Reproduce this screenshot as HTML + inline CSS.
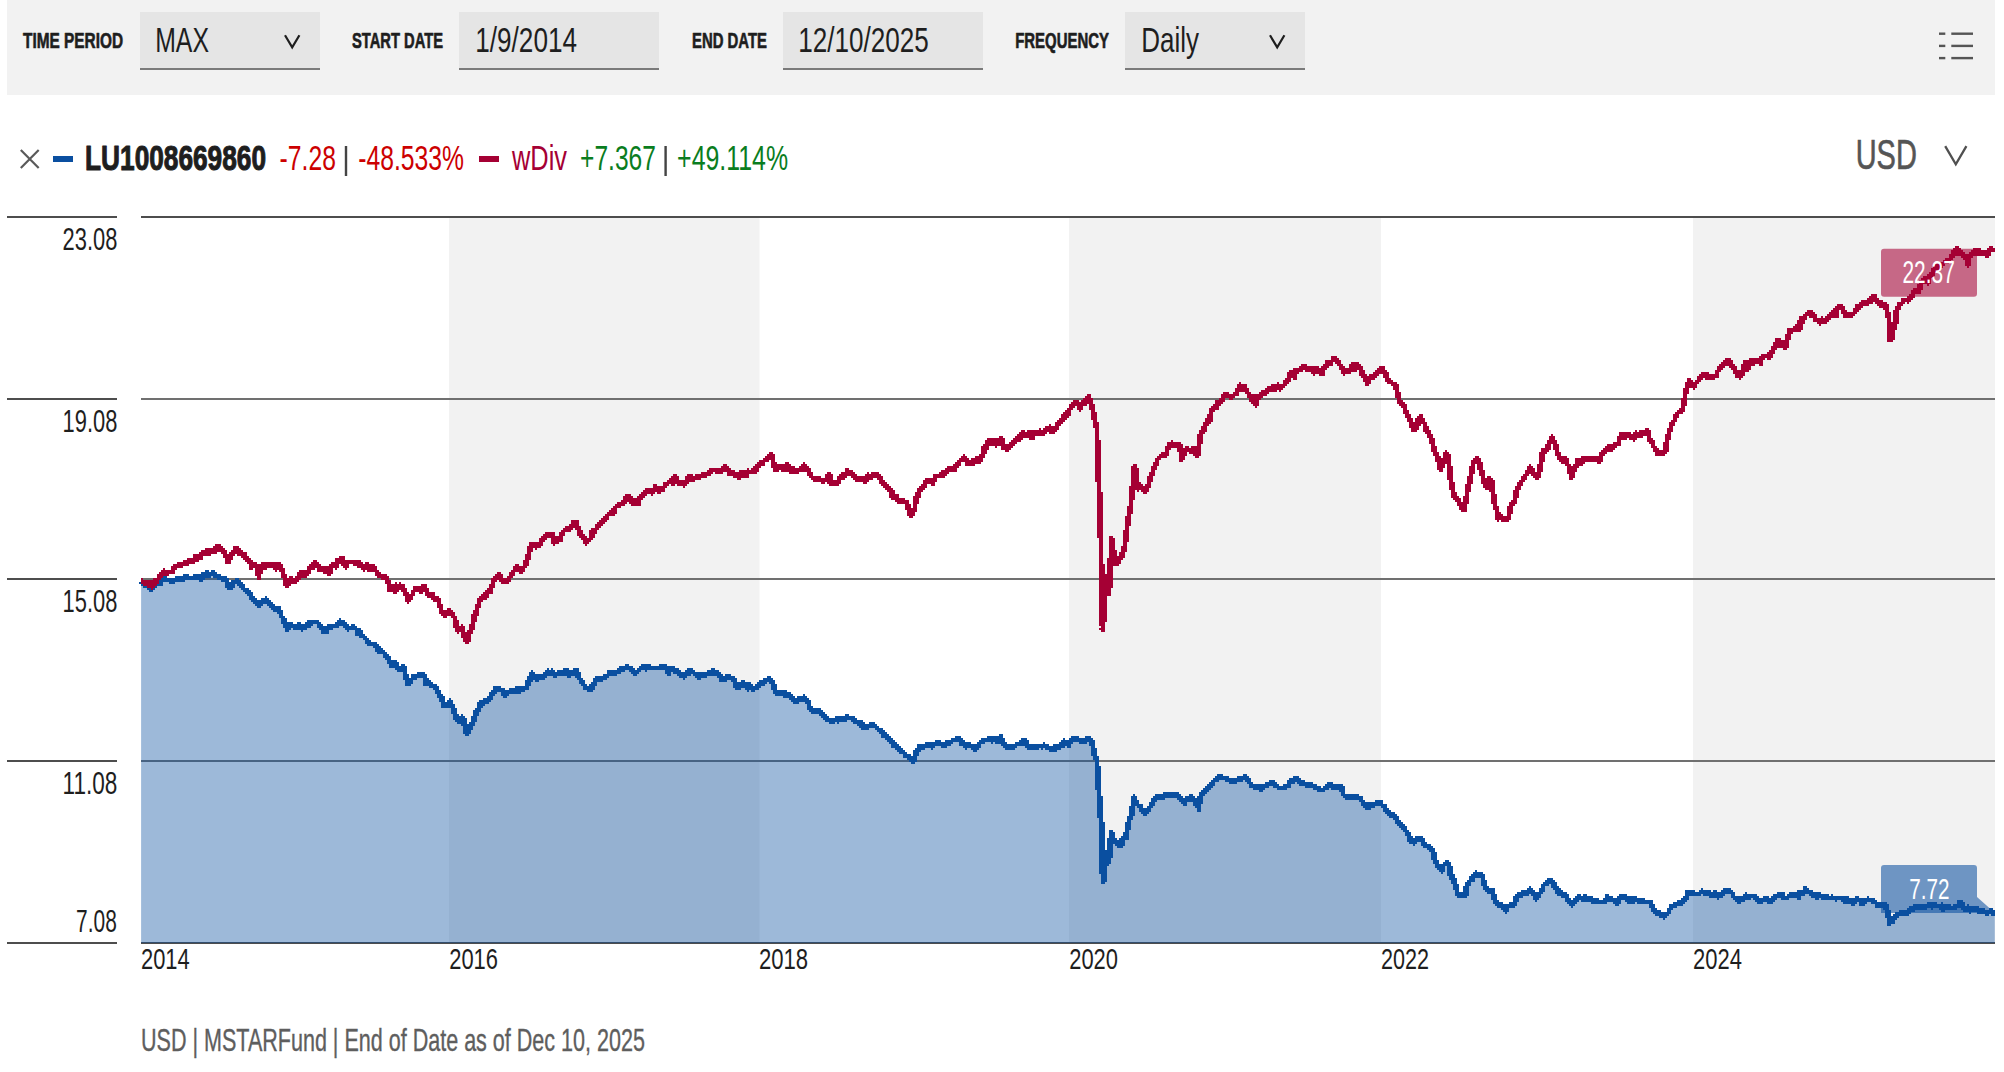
<!DOCTYPE html>
<html lang="en"><head><meta charset="utf-8"><title>Chart</title>
<style>
html,body{margin:0;padding:0;background:#fff;}
body{width:2004px;height:1072px;overflow:hidden;}
svg{display:block;position:absolute;left:0;top:0;}
text{font-family:"Liberation Sans",Arial,sans-serif;}
</style></head><body>
<svg width="2004" height="1072" viewBox="0 0 2004 1072">
<rect x="7" y="0" width="1988" height="95" fill="#f2f2f2"/>
<rect x="140" y="12" width="180" height="57" fill="#e5e5e5"/>
<rect x="140" y="68" width="180" height="2" fill="#7a7a7a"/>
<rect x="459" y="12" width="200" height="57" fill="#e5e5e5"/>
<rect x="459" y="68" width="200" height="2" fill="#7a7a7a"/>
<rect x="783" y="12" width="200" height="57" fill="#e5e5e5"/>
<rect x="783" y="68" width="200" height="2" fill="#7a7a7a"/>
<rect x="1125" y="12" width="180" height="57" fill="#e5e5e5"/>
<rect x="1125" y="68" width="180" height="2" fill="#7a7a7a"/>
<text x="23.0" y="48.1" font-size="21.66" font-weight="bold" fill="#1e1e1e" text-anchor="start" textLength="100.0" lengthAdjust="spacingAndGlyphs" stroke="#1e1e1e" stroke-width="0.65" stroke-linejoin="round">TIME PERIOD</text>
<text x="155.2" y="51.9" font-size="34.45" font-weight="normal" fill="#1e1e1e" text-anchor="start" textLength="53.8" lengthAdjust="spacingAndGlyphs">MAX</text>
<polyline points="285,35.3 292.2,47.3 299.4,35.3" fill="none" stroke="#1e1e1e" stroke-width="2.2" stroke-linejoin="miter"/>
<text x="352.0" y="48.1" font-size="21.66" font-weight="bold" fill="#1e1e1e" text-anchor="start" textLength="91.0" lengthAdjust="spacingAndGlyphs" stroke="#1e1e1e" stroke-width="0.65" stroke-linejoin="round">START DATE</text>
<text x="475.3" y="51.9" font-size="34.45" font-weight="normal" fill="#1e1e1e" text-anchor="start" textLength="101.7" lengthAdjust="spacingAndGlyphs">1/9/2014</text>
<text x="692.0" y="48.1" font-size="21.66" font-weight="bold" fill="#1e1e1e" text-anchor="start" textLength="75.0" lengthAdjust="spacingAndGlyphs" stroke="#1e1e1e" stroke-width="0.65" stroke-linejoin="round">END DATE</text>
<text x="798.2" y="51.9" font-size="34.45" font-weight="normal" fill="#1e1e1e" text-anchor="start" textLength="130.7" lengthAdjust="spacingAndGlyphs">12/10/2025</text>
<text x="1015.2" y="48.1" font-size="21.66" font-weight="bold" fill="#1e1e1e" text-anchor="start" textLength="93.8" lengthAdjust="spacingAndGlyphs" stroke="#1e1e1e" stroke-width="0.65" stroke-linejoin="round">FREQUENCY</text>
<text x="1141.2" y="51.9" font-size="34.45" font-weight="normal" fill="#1e1e1e" text-anchor="start" textLength="57.8" lengthAdjust="spacingAndGlyphs">Daily</text>
<polyline points="1270,35.3 1277.2,47.3 1284.4,35.3" fill="none" stroke="#1e1e1e" stroke-width="2.2" stroke-linejoin="miter"/>
<rect x="1939" y="32.5" width="6.3" height="2.4" fill="#555"/>
<rect x="1951.3" y="32.5" width="21.7" height="2.4" fill="#555"/>
<rect x="1939" y="44.7" width="6.3" height="2.4" fill="#555"/>
<rect x="1951.3" y="44.7" width="21.7" height="2.4" fill="#555"/>
<rect x="1939" y="56.9" width="6.3" height="2.4" fill="#555"/>
<rect x="1951.3" y="56.9" width="21.7" height="2.4" fill="#555"/>
<path d="M20.8,150 L38.7,168 M38.7,150 L20.8,168" stroke="#5a5a5a" stroke-width="2.2" fill="none"/>
<rect x="53" y="156" width="20" height="6" fill="#0a4fa0"/>
<text x="85.1" y="170.1" font-size="34.74" font-weight="bold" fill="#1e1e1e" text-anchor="start" textLength="180.9" lengthAdjust="spacingAndGlyphs" stroke="#1e1e1e" stroke-width="1.04" stroke-linejoin="round">LU1008669860</text>
<text x="279.6" y="170.1" font-size="34.45" font-weight="normal" fill="#cc0000" text-anchor="start" textLength="56.3" lengthAdjust="spacingAndGlyphs">-7.28</text>
<rect x="344.8" y="146" width="2.4" height="30" fill="#444"/>
<text x="358.3" y="170.1" font-size="34.45" font-weight="normal" fill="#cc0000" text-anchor="start" textLength="105.6" lengthAdjust="spacingAndGlyphs">-48.533%</text>
<rect x="479" y="156" width="20" height="6" fill="#a50034"/>
<text x="512.0" y="170.1" font-size="34.45" font-weight="normal" fill="#a50034" text-anchor="start" textLength="55.0" lengthAdjust="spacingAndGlyphs">wDiv</text>
<text x="580.1" y="170.1" font-size="34.45" font-weight="normal" fill="#0a7d1e" text-anchor="start" textLength="75.8" lengthAdjust="spacingAndGlyphs">+7.367</text>
<rect x="664.4" y="146" width="2.4" height="30" fill="#444"/>
<text x="677.1" y="170.1" font-size="34.45" font-weight="normal" fill="#0a7d1e" text-anchor="start" textLength="111.0" lengthAdjust="spacingAndGlyphs">+49.114%</text>
<text x="1855.7" y="168.8" font-size="42.73" font-weight="normal" fill="#555" text-anchor="start" textLength="61.1" lengthAdjust="spacingAndGlyphs" stroke="#555" stroke-width="0.7">USD</text>
<polyline points="1945.2,146.2 1955.8000000000002,164.3 1966.4,146.2" fill="none" stroke="#505050" stroke-width="2.3" stroke-linejoin="miter"/>
<rect x="449" y="218" width="310.5" height="724" fill="#f2f2f2"/>
<rect x="1069" y="218" width="312" height="724" fill="#f2f2f2"/>
<rect x="1693" y="218" width="302" height="724" fill="#f2f2f2"/>
<rect x="7" y="216" width="110" height="2" fill="#4d4d4d"/>
<rect x="141" y="216" width="1854" height="2" fill="#4d4d4d"/>
<rect x="7" y="398" width="110" height="2" fill="#4d4d4d"/>
<rect x="141" y="398" width="1854" height="2" fill="#707070"/>
<rect x="7" y="578" width="110" height="2" fill="#4d4d4d"/>
<rect x="141" y="578" width="1854" height="2" fill="#707070"/>
<rect x="7" y="760" width="110" height="2" fill="#4d4d4d"/>
<rect x="141" y="760" width="1854" height="2" fill="#707070"/>
<rect x="7" y="942" width="110" height="2" fill="#4d4d4d"/>
<rect x="141" y="942" width="1854" height="2" fill="#4d4d4d"/>
<text x="62.6" y="250.1" font-size="30.67" font-weight="normal" fill="#1e1e1e" text-anchor="start" textLength="54.8" lengthAdjust="spacingAndGlyphs">23.08</text>
<text x="62.6" y="432.1" font-size="30.67" font-weight="normal" fill="#1e1e1e" text-anchor="start" textLength="54.8" lengthAdjust="spacingAndGlyphs">19.08</text>
<text x="62.6" y="612.1" font-size="30.67" font-weight="normal" fill="#1e1e1e" text-anchor="start" textLength="54.8" lengthAdjust="spacingAndGlyphs">15.08</text>
<text x="62.6" y="794.1" font-size="30.67" font-weight="normal" fill="#1e1e1e" text-anchor="start" textLength="54.8" lengthAdjust="spacingAndGlyphs">11.08</text>
<text x="76.1" y="932.2" font-size="30.81" font-weight="normal" fill="#1e1e1e" text-anchor="start" textLength="40.7" lengthAdjust="spacingAndGlyphs">7.08</text>
<text x="141.0" y="969.0" font-size="30.38" font-weight="normal" fill="#1e1e1e" text-anchor="start" textLength="48.7" lengthAdjust="spacingAndGlyphs">2014</text>
<text x="449.2" y="969.0" font-size="30.38" font-weight="normal" fill="#1e1e1e" text-anchor="start" textLength="48.8" lengthAdjust="spacingAndGlyphs">2016</text>
<text x="758.9" y="969.0" font-size="30.38" font-weight="normal" fill="#1e1e1e" text-anchor="start" textLength="49.2" lengthAdjust="spacingAndGlyphs">2018</text>
<text x="1069.2" y="969.0" font-size="30.38" font-weight="normal" fill="#1e1e1e" text-anchor="start" textLength="48.8" lengthAdjust="spacingAndGlyphs">2020</text>
<text x="1381.1" y="969.0" font-size="30.38" font-weight="normal" fill="#1e1e1e" text-anchor="start" textLength="48.0" lengthAdjust="spacingAndGlyphs">2022</text>
<text x="1693.1" y="969.0" font-size="30.38" font-weight="normal" fill="#1e1e1e" text-anchor="start" textLength="48.9" lengthAdjust="spacingAndGlyphs">2024</text>
<text x="141.0" y="1051.1" font-size="30.52" font-weight="normal" fill="#5e5e5e" text-anchor="start" textLength="503.9" lengthAdjust="spacingAndGlyphs" stroke="#5e5e5e" stroke-width="0.35">USD | MSTARFund | End of Date as of Dec 10, 2025</text>
<polygon points="141.1,581.1 142.4,583.0 143.8,584.5 145.1,583.1 146.4,583.6 147.8,585.1 149.1,586.6 150.5,587.9 151.8,589.0 153.1,587.5 154.5,585.8 155.8,584.5 157.2,582.6 158.8,581.4 160.4,583.7 162.0,581.6 163.6,578.9 165.2,580.3 166.8,579.4 168.4,579.5 170.0,581.5 171.5,579.8 173.0,581.8 174.5,579.8 176.0,579.4 177.5,578.3 179.2,578.2 180.8,577.5 182.4,579.1 184.0,577.6 185.6,575.8 187.2,576.6 188.8,577.4 190.4,577.6 191.8,577.9 193.1,578.1 194.4,576.8 195.8,576.1 197.4,577.0 199.0,576.6 200.6,579.0 202.2,578.9 203.8,574.2 205.4,575.4 207.0,572.4 208.7,574.6 210.2,574.9 211.7,573.7 213.2,571.8 214.7,575.2 216.2,574.6 217.5,575.8 218.8,577.6 220.2,576.9 221.5,577.6 223.0,578.1 224.4,579.9 225.8,578.3 228.0,587.5 229.4,587.9 230.8,586.6 232.3,585.4 233.9,581.9 235.5,581.5 237.1,580.9 238.7,582.6 240.3,584.0 241.9,586.4 243.5,589.4 245.1,590.1 246.6,590.7 248.0,592.5 249.4,592.2 250.8,595.4 252.3,598.2 253.7,600.8 255.1,600.6 256.4,601.6 257.7,604.1 259.1,606.2 260.5,602.9 261.9,603.7 263.4,599.7 264.7,600.6 266.0,598.8 267.4,601.9 268.7,604.0 270.1,604.0 271.4,604.7 272.8,606.5 274.1,609.4 275.5,608.2 277.0,608.4 278.4,608.3 279.8,610.7 281.2,616.8 282.7,618.0 284.1,622.7 285.5,623.9 287.0,629.8 288.6,628.4 290.2,624.4 291.5,624.2 292.9,626.3 294.2,626.6 295.5,627.6 297.0,628.8 298.5,624.7 300.1,625.9 301.6,628.9 303.1,625.5 304.5,626.0 305.9,626.3 307.3,626.5 308.8,622.5 310.2,623.9 311.6,623.3 313.1,622.3 314.5,621.7 315.9,621.8 317.3,621.5 318.6,623.8 320.0,626.6 321.3,626.5 322.9,630.7 324.5,631.3 325.9,632.1 327.2,629.3 328.5,626.9 329.9,627.0 331.2,628.1 332.6,625.9 333.9,625.6 335.2,625.5 336.7,624.4 338.1,624.4 339.5,621.2 341.1,622.6 342.7,621.5 344.4,625.3 346.0,627.0 347.4,627.3 348.8,629.0 350.3,627.7 351.7,628.3 353.1,626.0 354.5,627.6 356.2,628.5 357.8,634.1 359.4,630.7 361.0,634.6 362.6,636.2 364.2,637.3 365.6,639.3 367.1,641.3 368.5,642.6 370.1,643.0 371.7,644.1 373.3,643.7 374.9,643.7 376.4,647.0 377.9,651.1 379.4,649.3 380.9,649.9 382.4,651.2 384.0,653.9 385.7,655.6 387.3,657.7 388.9,658.7 390.5,663.3 392.1,666.2 393.7,666.3 395.3,661.9 396.9,667.2 398.5,667.3 399.9,669.7 401.2,668.6 402.6,666.7 403.9,668.4 405.3,675.5 406.8,679.9 408.2,684.5 409.5,681.9 410.9,680.8 412.2,678.7 413.5,675.9 414.9,675.7 416.2,676.8 417.6,676.1 418.9,673.7 420.3,674.3 421.8,674.7 423.2,674.8 424.5,677.5 425.9,683.6 427.2,682.4 428.6,682.3 430.2,683.9 431.8,685.2 433.4,686.1 435.0,685.5 436.4,689.0 437.9,690.9 439.3,695.2 440.7,695.1 442.2,701.4 443.6,705.9 444.9,704.5 446.3,706.0 447.6,703.8 448.9,703.8 450.4,701.3 451.8,706.2 453.2,709.1 454.7,713.7 456.1,718.9 457.5,720.9 459.0,721.3 460.4,717.9 461.8,716.7 463.2,720.4 464.7,726.0 466.1,732.7 468.4,732.4 470.0,727.6 471.7,724.4 473.4,723.4 474.9,717.7 476.4,713.0 477.9,709.2 479.4,707.7 480.9,702.5 482.4,703.8 483.9,702.3 485.4,700.9 486.8,702.0 488.3,701.0 489.8,697.6 491.3,695.5 492.8,692.1 494.3,691.6 495.8,688.3 497.3,687.6 498.8,687.6 500.3,690.3 501.8,690.4 503.3,691.3 504.7,695.1 506.2,693.1 507.7,692.6 509.2,691.3 510.7,691.0 512.2,690.6 513.7,691.4 515.2,691.7 516.7,687.9 518.2,690.1 519.7,690.6 521.2,688.7 522.6,688.5 524.1,688.5 525.6,688.2 527.1,686.1 528.6,680.5 530.1,679.5 531.6,672.7 533.1,674.6 534.6,675.3 536.1,680.0 537.6,676.5 539.1,677.2 540.5,677.3 542.0,678.2 543.5,676.6 545.0,674.3 546.5,675.0 548.0,671.2 549.5,673.9 551.0,672.1 552.5,671.3 554.0,674.1 555.5,675.7 557.0,674.5 558.4,672.4 559.9,673.3 561.4,671.2 562.7,673.5 564.0,671.9 565.3,671.3 566.7,669.1 568.0,673.7 569.3,675.3 570.6,674.7 571.9,672.7 573.4,673.2 574.9,672.0 576.3,669.7 577.8,675.0 579.3,678.7 580.8,679.5 582.3,682.7 583.8,684.7 585.3,687.6 586.8,688.1 588.3,688.9 589.8,687.2 591.3,689.1 592.8,685.2 594.2,683.5 595.7,681.6 597.2,678.1 598.7,678.0 600.2,678.1 601.7,678.3 603.2,678.7 604.7,676.9 606.2,675.6 607.7,675.7 609.2,672.8 610.7,672.7 612.1,671.9 613.6,672.6 615.1,672.1 616.6,672.2 618.1,671.2 619.6,669.8 621.1,669.9 622.6,668.2 624.1,667.6 625.6,667.7 627.1,666.7 628.6,667.8 630.0,668.8 631.5,668.1 633.0,670.9 634.5,673.2 636.0,672.7 637.5,671.8 639.0,670.2 640.5,668.8 642.0,667.8 643.5,666.9 645.0,668.2 646.5,668.1 647.9,666.7 649.4,666.9 650.9,668.2 652.4,667.6 653.9,668.2 655.4,667.7 656.9,667.7 658.4,668.0 659.9,667.3 661.4,665.3 662.9,668.2 664.4,666.9 665.8,668.4 667.3,668.9 668.8,673.1 670.3,669.2 671.8,668.2 673.3,669.6 674.8,671.5 676.3,671.7 677.8,671.5 679.3,672.7 680.8,674.6 682.3,674.7 683.7,677.2 685.2,674.1 686.7,673.4 688.2,673.7 689.7,669.9 691.2,669.7 692.7,671.8 694.2,673.0 695.7,674.7 697.2,674.8 698.7,677.2 700.2,675.3 701.6,676.1 703.1,674.8 704.6,674.2 706.0,674.8 707.3,673.6 708.7,674.1 710.0,671.8 711.3,673.3 712.7,670.2 714.0,673.2 715.4,673.3 716.7,674.3 718.1,672.7 719.5,674.7 721.0,679.4 722.5,677.2 724.0,679.2 725.5,678.7 727.0,675.8 728.5,676.0 730.0,677.0 731.5,678.7 733.0,679.6 734.5,679.5 736.0,685.5 737.4,687.6 738.9,686.1 740.4,686.4 741.9,684.7 743.4,682.2 744.9,683.1 746.4,686.7 747.9,689.1 749.4,683.9 750.9,687.6 752.4,688.5 753.9,688.7 755.3,687.2 756.8,686.7 758.3,685.3 759.8,683.1 761.1,683.0 762.4,682.4 763.7,682.8 765.0,680.6 766.3,679.8 767.7,679.6 769.0,678.5 770.3,680.2 771.8,681.2 773.2,685.2 774.7,689.7 776.2,693.6 777.7,693.4 779.2,694.3 780.7,691.4 782.2,692.9 783.7,695.1 785.2,693.7 786.7,693.1 788.2,693.6 789.5,697.0 791.1,697.3 792.7,699.8 794.3,700.3 795.9,700.2 797.2,701.1 798.5,699.3 799.8,698.7 801.2,699.0 802.5,698.8 803.8,697.0 805.1,700.1 806.4,701.4 807.8,701.2 809.1,706.3 810.4,710.2 811.7,709.7 813.1,712.3 814.4,710.8 815.7,709.6 817.0,710.1 818.3,710.4 819.7,711.3 821.0,712.2 822.3,713.7 823.6,714.5 825.0,718.7 826.3,717.7 827.6,719.2 829.2,719.2 830.8,720.6 832.4,720.7 833.9,720.8 835.5,719.0 837.1,719.4 838.7,720.7 840.3,717.6 841.6,719.4 842.9,717.4 844.3,719.5 845.6,717.7 846.9,716.4 848.2,717.6 849.5,717.5 850.9,718.3 852.2,717.9 853.5,719.0 854.8,719.8 856.2,722.4 857.5,721.6 858.8,723.0 860.1,722.2 861.4,723.3 862.8,728.0 864.1,727.2 865.4,725.6 866.7,726.7 868.1,726.5 869.4,725.7 870.7,724.2 872.0,724.0 873.3,723.7 874.7,725.9 876.0,727.3 877.3,727.6 878.6,729.5 880.0,730.3 881.3,731.1 882.6,732.8 883.9,735.9 885.2,735.7 886.6,736.3 887.9,736.7 889.2,739.9 890.5,741.4 891.9,741.5 893.2,746.3 894.5,744.1 895.8,746.2 897.1,746.0 898.5,748.5 899.8,749.4 901.1,751.3 902.4,751.9 903.8,752.5 905.3,755.5 906.9,755.9 908.5,756.9 910.1,758.9 911.7,760.4 913.3,762.1 915.2,756.1 917.1,749.4 918.5,749.1 920.0,745.9 921.5,745.9 922.9,747.1 924.4,746.2 925.7,745.5 927.0,746.3 928.3,745.5 929.7,744.6 931.0,746.5 932.3,746.2 933.9,744.7 935.5,743.8 937.1,743.2 938.7,741.4 940.2,743.4 941.8,744.1 943.4,746.2 945.0,744.7 946.6,742.6 948.2,742.6 949.8,743.0 951.1,741.9 952.5,740.3 953.8,739.5 955.2,740.5 956.6,739.7 957.9,738.5 959.3,738.3 960.6,740.3 961.9,744.5 963.2,743.5 964.6,743.6 965.9,746.6 967.2,744.6 968.6,745.8 969.9,744.6 971.3,746.2 972.7,746.4 974.0,748.0 975.4,750.4 976.7,747.8 978.1,745.5 979.4,744.1 980.7,742.2 982.0,741.0 983.3,740.5 984.7,739.9 986.0,739.8 987.3,740.5 988.6,738.3 990.0,738.5 991.3,740.6 992.6,739.9 993.9,738.8 995.2,739.9 996.6,739.9 997.9,742.2 999.2,737.3 1000.5,736.7 1002.1,740.9 1003.7,744.3 1005.3,746.2 1006.6,747.4 1008.0,747.5 1009.4,747.2 1010.7,746.5 1012.1,747.1 1013.4,746.5 1014.8,746.2 1016.2,744.3 1017.5,743.9 1018.9,744.0 1020.2,744.3 1021.6,742.1 1023.0,741.2 1024.3,739.9 1025.9,743.2 1027.5,745.8 1029.1,746.1 1030.7,747.8 1032.0,746.9 1033.4,746.8 1034.8,746.1 1036.1,746.9 1037.5,746.9 1038.8,745.1 1040.2,746.2 1041.5,745.7 1042.8,746.6 1044.2,745.1 1045.5,746.2 1046.8,746.1 1048.1,747.8 1049.4,747.1 1050.8,749.4 1052.1,748.9 1053.4,749.4 1054.7,746.2 1056.1,749.4 1057.4,747.4 1058.7,747.9 1060.0,744.5 1061.3,743.4 1062.7,745.1 1064.0,741.4 1065.4,742.3 1066.7,742.7 1068.1,742.9 1069.4,745.3 1070.8,739.9 1072.2,738.9 1073.5,738.3 1074.9,738.3 1076.2,738.5 1077.6,739.1 1079.0,740.3 1080.3,739.8 1081.7,741.1 1083.0,739.9 1084.4,741.4 1085.7,741.3 1087.0,738.8 1088.3,738.7 1089.6,740.1 1091.0,739.9 1092.5,747.3 1094.1,754.1 1096.7,760.5 1097.8,783.8 1099.5,798.9 1100.3,815.7 1101.6,829.2 1102.0,854.4 1102.3,871.1 1103.3,881.2 1105.0,867.8 1106.2,852.7 1108.7,862.7 1110.4,854.4 1111.2,831.7 1112.9,836.9 1114.6,840.9 1116.0,842.1 1117.4,844.2 1118.8,844.3 1121.3,846.8 1123.0,838.4 1124.7,836.9 1126.3,837.6 1128.0,824.1 1129.7,818.2 1132.2,814.0 1133.9,797.3 1136.4,804.0 1138.1,805.3 1139.8,805.6 1141.5,810.5 1143.1,811.5 1144.8,813.3 1146.5,813.0 1148.2,810.7 1149.8,806.6 1151.5,805.6 1154.0,799.8 1155.7,798.5 1157.4,796.9 1159.1,797.3 1160.8,797.2 1162.4,797.1 1164.1,796.4 1165.8,794.5 1167.5,795.9 1169.2,793.9 1170.8,794.5 1172.5,794.9 1174.2,796.4 1175.9,794.8 1177.6,794.7 1179.2,798.1 1180.9,798.2 1182.6,799.0 1184.3,804.0 1185.7,799.8 1187.1,798.9 1188.5,799.8 1190.2,796.5 1191.8,799.5 1193.5,798.9 1195.2,804.4 1196.9,805.6 1198.6,809.0 1201.1,793.9 1202.7,792.4 1204.4,790.7 1206.1,790.5 1207.5,789.5 1208.9,786.8 1210.3,785.5 1212.0,783.7 1213.7,781.1 1215.3,780.5 1216.8,778.8 1218.3,778.3 1219.8,776.8 1221.2,777.9 1222.9,777.2 1224.6,777.9 1226.3,778.8 1227.9,778.8 1229.6,780.4 1231.3,781.3 1232.7,782.1 1234.1,781.0 1235.5,779.6 1237.2,780.0 1238.9,778.6 1240.5,777.1 1242.2,779.0 1243.9,777.3 1245.6,777.1 1247.3,778.5 1248.9,781.1 1250.6,784.7 1252.0,785.2 1253.4,786.3 1254.8,787.2 1256.2,787.8 1257.5,786.9 1258.8,786.0 1260.2,786.2 1261.5,789.7 1262.9,787.0 1264.2,786.3 1265.6,785.8 1266.9,785.8 1268.2,784.7 1269.6,783.4 1270.9,783.2 1272.3,782.2 1273.6,783.2 1275.0,785.5 1276.3,785.1 1277.7,787.1 1279.0,787.9 1280.3,787.9 1281.7,788.0 1283.4,787.5 1285.0,787.7 1286.7,785.5 1288.2,785.5 1289.7,784.2 1291.1,779.3 1292.6,781.3 1294.1,779.0 1295.5,779.3 1297.0,778.3 1298.5,781.3 1300.2,783.4 1301.8,782.2 1303.5,783.8 1305.0,783.2 1306.5,784.9 1307.9,783.7 1309.4,785.5 1310.8,785.7 1312.2,785.2 1313.6,787.2 1315.1,787.5 1316.5,787.2 1318.0,788.3 1319.5,789.7 1321.1,789.5 1322.8,789.6 1324.5,788.0 1325.9,788.2 1327.3,786.9 1328.7,785.5 1330.2,784.1 1331.6,787.1 1333.1,787.6 1334.6,787.2 1336.3,786.6 1337.9,787.3 1339.6,788.9 1341.0,786.5 1342.4,792.0 1343.8,794.7 1345.5,796.4 1347.2,797.5 1348.9,798.1 1350.3,796.6 1351.7,795.6 1353.1,796.4 1354.7,796.5 1356.4,796.9 1358.1,798.1 1359.5,797.2 1360.9,799.8 1362.3,800.6 1363.7,803.6 1365.1,806.4 1366.5,807.3 1367.9,804.0 1369.3,807.3 1370.7,804.8 1372.4,805.1 1374.0,804.5 1375.7,803.1 1377.4,804.5 1379.1,801.6 1380.8,803.1 1382.2,805.1 1383.6,805.9 1385.0,809.0 1386.4,809.6 1387.8,811.7 1389.2,814.0 1390.6,815.1 1392.0,815.1 1393.4,813.3 1394.8,817.9 1396.2,819.0 1397.6,820.3 1398.9,824.5 1400.6,823.9 1402.2,826.3 1403.9,827.8 1405.2,829.6 1406.6,831.7 1408.0,833.5 1410.5,840.1 1412.1,842.4 1413.8,842.6 1415.4,840.2 1417.1,838.5 1418.4,839.0 1419.8,838.8 1421.2,838.5 1422.8,842.1 1424.5,845.0 1425.8,844.5 1427.2,846.6 1428.6,846.7 1430.0,848.3 1431.3,850.0 1432.7,850.8 1434.3,859.0 1435.7,862.1 1437.1,863.8 1438.5,866.5 1440.1,869.0 1441.8,870.6 1443.4,866.3 1445.0,863.2 1446.4,863.0 1447.8,863.1 1449.2,865.6 1450.8,878.8 1452.2,876.3 1453.6,881.8 1454.9,883.7 1457.4,893.6 1459.0,894.5 1460.7,895.8 1462.3,893.6 1464.0,893.5 1465.6,895.3 1467.3,885.4 1468.6,883.4 1470.0,881.0 1471.4,878.8 1472.8,879.8 1474.1,874.9 1475.5,873.0 1477.2,875.0 1478.8,873.9 1480.2,875.9 1481.5,875.2 1482.9,879.6 1484.6,887.0 1485.9,887.4 1487.3,888.0 1488.7,891.2 1490.3,891.5 1492.0,889.5 1493.6,896.5 1495.3,901.9 1496.9,903.0 1498.6,906.0 1499.9,905.3 1501.3,904.7 1502.7,906.8 1504.3,906.4 1506.0,910.9 1507.6,906.7 1509.3,905.2 1510.6,904.4 1512.0,905.2 1513.4,905.2 1515.0,902.3 1516.7,895.3 1518.3,895.4 1520.0,895.6 1521.6,893.6 1523.0,892.6 1524.4,894.0 1525.7,894.4 1527.4,892.3 1529.0,889.5 1530.4,889.4 1531.8,891.5 1533.1,893.6 1534.8,895.3 1536.4,898.6 1537.8,896.9 1539.2,894.2 1540.6,892.0 1542.2,890.3 1543.8,885.4 1545.2,883.5 1546.6,883.2 1548.0,882.1 1549.3,880.3 1550.7,880.2 1552.1,882.1 1553.5,882.7 1554.8,887.0 1556.2,887.9 1557.6,892.7 1558.9,891.8 1560.3,892.0 1562.0,894.8 1563.6,894.3 1565.3,895.3 1566.6,896.6 1568.0,899.4 1569.4,901.9 1571.0,904.2 1572.7,904.3 1574.0,903.1 1575.4,900.2 1576.8,899.4 1578.4,896.4 1580.1,898.0 1581.7,898.6 1583.4,900.2 1585.0,896.1 1586.7,897.5 1588.3,899.4 1589.8,899.8 1591.2,898.4 1592.6,900.5 1594.1,901.9 1595.7,901.3 1597.4,900.9 1599.0,901.9 1600.7,901.8 1602.3,902.0 1604.0,901.0 1605.6,902.3 1607.2,896.8 1608.9,899.4 1610.3,900.1 1611.6,899.0 1613.0,900.2 1614.4,900.4 1615.8,901.5 1617.1,904.3 1618.8,899.8 1620.4,897.7 1622.1,895.6 1623.7,896.1 1625.4,896.9 1627.0,897.5 1628.7,901.9 1630.0,898.6 1631.4,899.5 1632.8,901.0 1634.1,897.8 1635.5,899.2 1636.9,900.2 1638.5,900.8 1640.2,901.4 1641.8,901.9 1643.5,900.6 1645.1,902.5 1646.8,901.0 1648.1,902.4 1649.5,901.8 1650.9,902.7 1652.5,907.6 1654.2,910.9 1655.6,910.1 1656.9,913.4 1658.3,911.7 1659.9,914.5 1661.6,914.2 1663.2,915.2 1664.9,916.7 1666.5,914.2 1668.2,913.3 1669.8,909.3 1671.5,907.2 1673.1,905.2 1674.8,905.2 1676.1,904.1 1677.5,903.6 1678.9,902.7 1680.5,903.0 1682.2,902.8 1683.8,900.2 1685.2,898.7 1686.6,897.7 1687.9,892.0 1689.3,894.3 1690.7,892.9 1692.1,893.6 1693.7,893.2 1695.3,894.4 1697.0,893.6 1698.4,893.8 1699.7,892.6 1701.1,892.0 1702.8,891.5 1704.4,891.6 1706.0,893.6 1707.7,892.5 1709.3,894.0 1710.8,893.7 1712.2,896.3 1713.7,894.0 1715.2,891.8 1716.7,894.7 1718.2,896.8 1719.7,894.0 1721.1,895.5 1722.5,893.0 1723.8,891.5 1725.2,890.1 1726.5,891.7 1728.1,891.7 1729.6,890.7 1731.1,892.5 1732.6,894.2 1734.1,897.0 1736.0,899.6 1737.9,900.1 1739.3,901.2 1740.6,897.5 1741.9,898.8 1743.2,898.5 1744.6,898.1 1745.9,894.8 1747.2,896.7 1748.5,896.3 1750.1,896.0 1751.6,895.8 1753.1,895.5 1754.6,896.4 1756.1,899.1 1757.6,899.3 1759.2,900.6 1760.7,902.4 1762.2,900.1 1763.7,900.1 1765.2,897.0 1766.7,898.5 1769.0,901.6 1770.4,901.3 1771.7,900.1 1773.0,898.7 1774.3,897.0 1775.8,896.3 1777.4,896.5 1778.9,894.8 1780.2,896.3 1781.5,893.8 1782.9,896.9 1784.2,897.0 1786.1,897.7 1788.0,897.0 1789.5,896.0 1791.0,893.2 1792.5,895.4 1794.1,893.9 1795.6,893.6 1797.1,893.2 1798.6,897.0 1800.1,892.7 1801.6,893.1 1803.2,891.7 1804.5,892.7 1805.8,888.3 1807.1,890.2 1808.5,891.0 1810.0,891.8 1811.5,893.3 1813.0,894.8 1814.4,896.4 1815.7,894.8 1817.1,897.3 1818.5,895.3 1819.8,894.8 1821.4,896.6 1822.9,896.3 1824.4,897.8 1825.9,897.2 1827.4,898.0 1828.9,897.0 1830.3,898.5 1831.6,897.8 1832.9,897.3 1834.3,897.8 1835.6,897.6 1837.0,898.6 1838.3,897.9 1839.7,897.9 1841.1,897.8 1842.6,898.7 1844.1,900.2 1845.6,901.6 1847.1,898.6 1848.7,901.0 1850.2,900.4 1851.7,903.1 1853.0,902.7 1854.4,902.3 1855.7,899.2 1857.0,898.5 1858.9,899.1 1860.8,900.8 1862.3,904.2 1863.8,903.4 1865.4,901.6 1866.9,899.2 1868.5,899.4 1870.0,900.2 1871.5,900.1 1873.0,901.0 1874.4,901.1 1876.2,903.4 1878.0,905.5 1879.3,906.2 1880.6,905.8 1882.0,903.8 1883.3,904.8 1884.6,904.5 1886.0,906.4 1887.7,911.7 1889.1,923.3 1890.6,921.6 1892.2,922.4 1894.4,917.1 1895.9,914.7 1897.5,916.2 1898.8,913.6 1900.1,912.6 1901.5,912.5 1902.8,912.6 1904.1,912.3 1905.5,911.7 1907.2,913.3 1909.0,909.1 1910.3,909.4 1911.7,910.5 1913.0,908.7 1914.3,908.2 1915.7,906.9 1917.0,907.8 1918.3,906.0 1919.6,906.9 1921.0,907.3 1922.3,906.4 1923.6,905.9 1925.0,907.3 1926.3,906.4 1927.6,905.3 1929.0,903.8 1930.3,906.4 1931.6,906.5 1932.9,903.3 1934.3,905.7 1935.6,906.0 1936.9,905.2 1938.3,905.8 1939.6,906.9 1940.9,906.4 1942.3,905.1 1943.6,909.6 1944.9,906.4 1946.2,906.9 1947.6,906.5 1948.9,906.3 1950.2,907.2 1951.6,908.2 1953.0,907.2 1954.5,906.7 1956.0,905.5 1957.5,905.4 1959.1,904.7 1960.6,901.2 1962.2,905.1 1964.0,908.5 1965.7,908.2 1967.2,907.9 1968.7,907.2 1970.2,910.9 1971.7,908.4 1973.1,908.5 1974.6,908.6 1976.4,908.3 1978.2,909.1 1979.5,912.5 1980.8,911.7 1982.4,909.8 1983.9,911.3 1985.5,912.9 1987.0,911.7 1988.4,912.8 1989.7,910.9 1991.4,910.8 1993.1,912.8 1994.8,913.5 1994.8,943 141.1,943" fill="#0a4fa0" fill-opacity="0.4"/>
<rect x="1881" y="248.7" width="96" height="48" rx="3" fill="#a50034" fill-opacity="0.57"/>
<path d="M1884,865 h90 a3,3 0 0 1 3,3 v29 l18,16 h-114 v-45 a3,3 0 0 1 3,-3 z" fill="#0a4fa0" fill-opacity="0.57"/>
<path d="M139 582h2v2h-2zM141 580h2v6h-2zM143 580h2v8h-2zM145 580h2v8h-2zM147 582h2v8h-2zM149 584h2v8h-2zM151 584h2v8h-2zM153 582h2v8h-2zM155 580h2v8h-2zM157 580h2v6h-2zM159 580h2v6h-2zM161 578h2v8h-2zM163 576h2v6h-2zM165 576h2v6h-2zM167 578h2v4h-2zM169 578h2v6h-2zM171 578h2v6h-2zM173 578h2v6h-2zM175 576h2v6h-2zM177 576h2v6h-2zM179 576h2v6h-2zM181 576h2v6h-2zM183 574h2v8h-2zM185 574h2v6h-2zM187 574h2v6h-2zM189 576h2v4h-2zM191 576h2v4h-2zM193 574h2v6h-2zM195 574h2v6h-2zM197 574h2v6h-2zM199 574h2v8h-2zM201 572h2v10h-2zM203 572h2v8h-2zM205 570h2v8h-2zM207 570h2v8h-2zM209 572h2v6h-2zM211 570h2v6h-2zM213 570h2v8h-2zM215 572h2v6h-2zM217 574h2v6h-2zM219 574h2v6h-2zM221 576h2v6h-2zM223 576h2v6h-2zM225 576h2v12h-2zM227 578h2v12h-2zM229 582h2v8h-2zM231 580h2v10h-2zM233 580h2v8h-2zM235 578h2v6h-2zM237 578h2v8h-2zM239 580h2v8h-2zM241 582h2v8h-2zM243 584h2v8h-2zM245 588h2v6h-2zM247 588h2v8h-2zM249 590h2v10h-2zM251 592h2v10h-2zM253 596h2v8h-2zM255 598h2v8h-2zM257 600h2v8h-2zM259 600h2v8h-2zM261 598h2v8h-2zM263 598h2v6h-2zM265 596h2v8h-2zM267 598h2v8h-2zM269 600h2v8h-2zM271 602h2v8h-2zM273 604h2v8h-2zM275 606h2v6h-2zM277 606h2v8h-2zM279 606h2v12h-2zM281 610h2v14h-2zM283 616h2v12h-2zM285 618h2v14h-2zM287 622h2v10h-2zM289 622h2v8h-2zM291 622h2v6h-2zM293 624h2v6h-2zM295 624h2v6h-2zM297 622h2v8h-2zM299 622h2v8h-2zM301 624h2v8h-2zM303 624h2v6h-2zM305 622h2v8h-2zM307 620h2v8h-2zM309 620h2v8h-2zM311 620h2v6h-2zM313 620h2v4h-2zM315 620h2v4h-2zM317 620h2v8h-2zM319 622h2v8h-2zM321 624h2v10h-2zM323 626h2v8h-2zM325 626h2v8h-2zM327 624h2v10h-2zM329 624h2v6h-2zM331 624h2v6h-2zM333 624h2v4h-2zM335 622h2v6h-2zM337 620h2v8h-2zM339 618h2v8h-2zM341 620h2v6h-2zM343 620h2v8h-2zM345 622h2v8h-2zM347 624h2v8h-2zM349 626h2v4h-2zM351 624h2v6h-2zM353 624h2v6h-2zM355 626h2v10h-2zM357 628h2v8h-2zM359 628h2v10h-2zM361 630h2v8h-2zM363 634h2v6h-2zM365 636h2v8h-2zM367 638h2v8h-2zM369 640h2v6h-2zM371 642h2v4h-2zM373 642h2v6h-2zM375 642h2v10h-2zM377 644h2v10h-2zM379 646h2v8h-2zM381 648h2v6h-2zM383 650h2v8h-2zM385 652h2v8h-2zM387 654h2v10h-2zM389 656h2v12h-2zM391 660h2v8h-2zM393 660h2v8h-2zM395 660h2v10h-2zM397 662h2v10h-2zM399 666h2v6h-2zM401 664h2v8h-2zM403 664h2v16h-2zM405 666h2v20h-2zM407 674h2v12h-2zM409 678h2v8h-2zM411 674h2v10h-2zM413 674h2v6h-2zM415 674h2v6h-2zM417 672h2v6h-2zM419 672h2v6h-2zM421 672h2v6h-2zM423 672h2v14h-2zM425 674h2v12h-2zM427 678h2v8h-2zM429 680h2v8h-2zM431 682h2v6h-2zM433 684h2v6h-2zM435 684h2v10h-2zM437 686h2v12h-2zM439 690h2v12h-2zM441 694h2v14h-2zM443 696h2v12h-2zM445 702h2v6h-2zM447 700h2v8h-2zM449 698h2v10h-2zM451 700h2v14h-2zM453 704h2v16h-2zM455 708h2v14h-2zM457 714h2v10h-2zM459 716h2v8h-2zM461 714h2v12h-2zM463 716h2v18h-2zM465 718h2v18h-2zM467 724h2v12h-2zM469 722h2v12h-2zM471 716h2v14h-2zM473 710h2v16h-2zM475 708h2v14h-2zM477 702h2v14h-2zM479 700h2v12h-2zM481 700h2v8h-2zM483 698h2v8h-2zM485 698h2v6h-2zM487 696h2v8h-2zM489 692h2v10h-2zM491 690h2v10h-2zM493 686h2v10h-2zM495 686h2v8h-2zM497 686h2v6h-2zM499 686h2v6h-2zM501 688h2v8h-2zM503 688h2v10h-2zM505 690h2v8h-2zM507 690h2v6h-2zM509 688h2v6h-2zM511 688h2v6h-2zM513 688h2v6h-2zM515 686h2v8h-2zM517 686h2v8h-2zM519 686h2v8h-2zM521 686h2v6h-2zM523 686h2v6h-2zM525 680h2v10h-2zM527 676h2v14h-2zM529 672h2v14h-2zM531 670h2v12h-2zM533 672h2v8h-2zM535 674h2v8h-2zM537 674h2v8h-2zM539 674h2v6h-2zM541 674h2v6h-2zM543 672h2v8h-2zM545 670h2v8h-2zM547 668h2v8h-2zM549 670h2v6h-2zM551 668h2v8h-2zM553 670h2v8h-2zM555 672h2v6h-2zM557 670h2v6h-2zM559 670h2v6h-2zM561 670h2v6h-2zM563 668h2v8h-2zM565 668h2v8h-2zM567 668h2v10h-2zM569 670h2v8h-2zM571 670h2v6h-2zM573 668h2v8h-2zM575 668h2v10h-2zM577 668h2v12h-2zM579 672h2v12h-2zM581 678h2v8h-2zM583 680h2v10h-2zM585 684h2v6h-2zM587 686h2v6h-2zM589 684h2v8h-2zM591 682h2v10h-2zM593 678h2v12h-2zM595 676h2v10h-2zM597 676h2v6h-2zM599 676h2v6h-2zM601 676h2v6h-2zM603 674h2v6h-2zM605 674h2v6h-2zM607 670h2v8h-2zM609 670h2v6h-2zM611 670h2v6h-2zM613 670h2v6h-2zM615 670h2v6h-2zM617 668h2v6h-2zM619 666h2v8h-2zM621 666h2v6h-2zM623 666h2v6h-2zM625 664h2v6h-2zM627 664h2v6h-2zM629 666h2v6h-2zM631 666h2v8h-2zM633 668h2v8h-2zM635 670h2v6h-2zM637 668h2v6h-2zM639 666h2v6h-2zM641 664h2v6h-2zM643 664h2v6h-2zM645 664h2v8h-2zM647 664h2v6h-2zM649 664h2v6h-2zM651 666h2v4h-2zM653 666h2v4h-2zM655 666h2v4h-2zM657 666h2v4h-2zM659 664h2v6h-2zM661 664h2v6h-2zM663 664h2v6h-2zM665 664h2v10h-2zM667 666h2v10h-2zM669 666h2v10h-2zM671 666h2v6h-2zM673 666h2v8h-2zM675 668h2v6h-2zM677 668h2v8h-2zM679 670h2v8h-2zM681 672h2v6h-2zM683 672h2v8h-2zM685 670h2v8h-2zM687 668h2v8h-2zM689 668h2v8h-2zM691 668h2v6h-2zM693 670h2v6h-2zM695 672h2v6h-2zM697 672h2v8h-2zM699 672h2v8h-2zM701 672h2v6h-2zM703 672h2v6h-2zM705 672h2v6h-2zM707 670h2v6h-2zM709 670h2v6h-2zM711 668h2v8h-2zM713 668h2v8h-2zM715 670h2v6h-2zM717 670h2v8h-2zM719 672h2v10h-2zM721 674h2v8h-2zM723 676h2v6h-2zM725 674h2v8h-2zM727 674h2v6h-2zM729 674h2v6h-2zM731 676h2v6h-2zM733 676h2v12h-2zM735 678h2v12h-2zM737 682h2v8h-2zM739 682h2v8h-2zM741 680h2v8h-2zM743 680h2v8h-2zM745 682h2v8h-2zM747 682h2v10h-2zM749 682h2v8h-2zM751 684h2v8h-2zM753 686h2v6h-2zM755 684h2v6h-2zM757 682h2v8h-2zM759 680h2v8h-2zM761 680h2v6h-2zM763 678h2v8h-2zM765 678h2v6h-2zM767 676h2v6h-2zM769 676h2v8h-2zM771 678h2v12h-2zM773 680h2v14h-2zM775 684h2v12h-2zM777 690h2v6h-2zM779 690h2v6h-2zM781 690h2v6h-2zM783 690h2v8h-2zM785 690h2v8h-2zM787 692h2v6h-2zM789 692h2v8h-2zM791 694h2v8h-2zM793 696h2v8h-2zM795 698h2v6h-2zM797 696h2v8h-2zM799 696h2v6h-2zM801 696h2v6h-2zM803 694h2v8h-2zM805 696h2v8h-2zM807 698h2v12h-2zM809 700h2v12h-2zM811 706h2v8h-2zM813 708h2v6h-2zM815 708h2v6h-2zM817 708h2v6h-2zM819 708h2v8h-2zM821 710h2v8h-2zM823 712h2v8h-2zM825 714h2v8h-2zM827 716h2v6h-2zM829 718h2v6h-2zM831 718h2v6h-2zM833 718h2v6h-2zM835 716h2v6h-2zM837 716h2v8h-2zM839 716h2v6h-2zM841 716h2v6h-2zM843 716h2v6h-2zM845 714h2v8h-2zM847 714h2v6h-2zM849 716h2v4h-2zM851 716h2v6h-2zM853 716h2v8h-2zM855 718h2v6h-2zM857 720h2v6h-2zM859 720h2v8h-2zM861 720h2v10h-2zM863 722h2v8h-2zM865 724h2v6h-2zM867 724h2v6h-2zM869 722h2v6h-2zM871 722h2v6h-2zM873 722h2v6h-2zM875 724h2v6h-2zM877 726h2v6h-2zM879 728h2v6h-2zM881 728h2v10h-2zM883 730h2v8h-2zM885 732h2v8h-2zM887 734h2v8h-2zM889 736h2v8h-2zM891 738h2v10h-2zM893 740h2v8h-2zM895 742h2v8h-2zM897 744h2v8h-2zM899 746h2v8h-2zM901 748h2v6h-2zM903 750h2v8h-2zM905 752h2v6h-2zM907 754h2v6h-2zM909 754h2v8h-2zM911 756h2v8h-2zM913 750h2v14h-2zM915 748h2v14h-2zM917 744h2v12h-2zM919 744h2v8h-2zM921 744h2v6h-2zM923 744h2v6h-2zM925 742h2v6h-2zM927 742h2v6h-2zM929 742h2v6h-2zM931 742h2v8h-2zM933 742h2v6h-2zM935 740h2v6h-2zM937 740h2v6h-2zM939 740h2v6h-2zM941 742h2v6h-2zM943 742h2v6h-2zM945 740h2v8h-2zM947 740h2v6h-2zM949 740h2v6h-2zM951 738h2v6h-2zM953 738h2v4h-2zM955 736h2v6h-2zM957 736h2v6h-2zM959 736h2v10h-2zM961 738h2v8h-2zM963 740h2v8h-2zM965 742h2v8h-2zM967 742h2v6h-2zM969 742h2v6h-2zM971 744h2v6h-2zM973 744h2v8h-2zM975 744h2v8h-2zM977 742h2v8h-2zM979 740h2v8h-2zM981 738h2v6h-2zM983 738h2v6h-2zM985 738h2v4h-2zM987 736h2v6h-2zM989 736h2v6h-2zM991 736h2v8h-2zM993 736h2v6h-2zM995 736h2v8h-2zM997 736h2v8h-2zM999 734h2v10h-2zM1001 734h2v12h-2zM1003 738h2v10h-2zM1005 742h2v8h-2zM1007 744h2v6h-2zM1009 744h2v6h-2zM1011 744h2v6h-2zM1013 744h2v6h-2zM1015 742h2v6h-2zM1017 742h2v4h-2zM1019 740h2v6h-2zM1021 738h2v8h-2zM1023 738h2v8h-2zM1025 738h2v10h-2zM1027 740h2v10h-2zM1029 744h2v6h-2zM1031 744h2v6h-2zM1033 744h2v6h-2zM1035 744h2v6h-2zM1037 744h2v6h-2zM1039 744h2v4h-2zM1041 744h2v6h-2zM1043 742h2v6h-2zM1045 744h2v6h-2zM1047 744h2v6h-2zM1049 746h2v6h-2zM1051 746h2v6h-2zM1053 744h2v8h-2zM1055 744h2v8h-2zM1057 744h2v6h-2zM1059 742h2v8h-2zM1061 740h2v8h-2zM1063 738h2v10h-2zM1065 740h2v6h-2zM1067 740h2v8h-2zM1069 738h2v10h-2zM1071 736h2v8h-2zM1073 736h2v6h-2zM1075 736h2v6h-2zM1077 736h2v6h-2zM1079 738h2v6h-2zM1081 738h2v6h-2zM1083 738h2v6h-2zM1085 736h2v8h-2zM1087 736h2v6h-2zM1089 736h2v10h-2zM1091 738h2v18h-2zM1093 740h2v20h-2zM1095 748h2v42h-2zM1097 756h2v62h-2zM1099 766h2v108h-2zM1101 796h2v88h-2zM1103 822h2v62h-2zM1105 850h2v32h-2zM1107 838h2v28h-2zM1109 830h2v34h-2zM1111 830h2v28h-2zM1113 832h2v12h-2zM1115 838h2v8h-2zM1117 840h2v8h-2zM1119 838h2v10h-2zM1121 836h2v12h-2zM1123 832h2v14h-2zM1125 822h2v18h-2zM1127 816h2v24h-2zM1129 806h2v24h-2zM1131 796h2v24h-2zM1133 794h2v22h-2zM1135 796h2v10h-2zM1137 800h2v8h-2zM1139 804h2v8h-2zM1141 804h2v10h-2zM1143 808h2v8h-2zM1145 808h2v8h-2zM1147 806h2v8h-2zM1149 802h2v10h-2zM1151 798h2v10h-2zM1153 796h2v10h-2zM1155 794h2v8h-2zM1157 794h2v6h-2zM1159 794h2v6h-2zM1161 794h2v6h-2zM1163 792h2v8h-2zM1165 792h2v6h-2zM1167 792h2v6h-2zM1169 792h2v6h-2zM1171 792h2v6h-2zM1173 792h2v6h-2zM1175 792h2v6h-2zM1177 792h2v8h-2zM1179 794h2v8h-2zM1181 796h2v8h-2zM1183 798h2v8h-2zM1185 796h2v10h-2zM1187 796h2v6h-2zM1189 794h2v8h-2zM1191 794h2v8h-2zM1193 796h2v10h-2zM1195 798h2v10h-2zM1197 796h2v16h-2zM1199 792h2v20h-2zM1201 790h2v14h-2zM1203 788h2v8h-2zM1205 786h2v8h-2zM1207 784h2v8h-2zM1209 782h2v8h-2zM1211 780h2v8h-2zM1213 778h2v8h-2zM1215 776h2v6h-2zM1217 774h2v8h-2zM1219 774h2v6h-2zM1221 774h2v6h-2zM1223 776h2v4h-2zM1225 776h2v6h-2zM1227 776h2v6h-2zM1229 778h2v6h-2zM1231 778h2v6h-2zM1233 778h2v6h-2zM1235 778h2v6h-2zM1237 776h2v6h-2zM1239 776h2v6h-2zM1241 776h2v6h-2zM1243 774h2v6h-2zM1245 774h2v8h-2zM1247 776h2v8h-2zM1249 778h2v10h-2zM1251 782h2v6h-2zM1253 784h2v6h-2zM1255 784h2v6h-2zM1257 784h2v6h-2zM1259 784h2v8h-2zM1261 784h2v8h-2zM1263 784h2v6h-2zM1265 782h2v6h-2zM1267 782h2v6h-2zM1269 780h2v6h-2zM1271 780h2v6h-2zM1273 780h2v8h-2zM1275 782h2v6h-2zM1277 784h2v6h-2zM1279 786h2v4h-2zM1281 786h2v4h-2zM1283 784h2v6h-2zM1285 784h2v6h-2zM1287 780h2v8h-2zM1289 778h2v10h-2zM1291 778h2v6h-2zM1293 776h2v8h-2zM1295 776h2v6h-2zM1297 776h2v8h-2zM1299 778h2v8h-2zM1301 780h2v6h-2zM1303 780h2v6h-2zM1305 782h2v6h-2zM1307 782h2v6h-2zM1309 782h2v6h-2zM1311 782h2v6h-2zM1313 784h2v6h-2zM1315 784h2v6h-2zM1317 786h2v6h-2zM1319 786h2v6h-2zM1321 788h2v4h-2zM1323 786h2v6h-2zM1325 784h2v6h-2zM1327 782h2v8h-2zM1329 782h2v6h-2zM1331 782h2v8h-2zM1333 784h2v6h-2zM1335 784h2v6h-2zM1337 784h2v6h-2zM1339 784h2v8h-2zM1341 784h2v12h-2zM1343 786h2v12h-2zM1345 794h2v6h-2zM1347 794h2v6h-2zM1349 794h2v6h-2zM1351 794h2v6h-2zM1353 794h2v6h-2zM1355 794h2v6h-2zM1357 794h2v6h-2zM1359 796h2v6h-2zM1361 796h2v10h-2zM1363 800h2v8h-2zM1365 802h2v8h-2zM1367 802h2v8h-2zM1369 802h2v8h-2zM1371 802h2v6h-2zM1373 802h2v6h-2zM1375 800h2v6h-2zM1377 800h2v6h-2zM1379 800h2v6h-2zM1381 800h2v8h-2zM1383 804h2v8h-2zM1385 804h2v10h-2zM1387 808h2v8h-2zM1389 810h2v8h-2zM1391 812h2v6h-2zM1393 812h2v8h-2zM1395 814h2v10h-2zM1397 816h2v10h-2zM1399 820h2v8h-2zM1401 822h2v8h-2zM1403 824h2v8h-2zM1405 826h2v10h-2zM1407 830h2v12h-2zM1409 832h2v12h-2zM1411 836h2v8h-2zM1413 838h2v8h-2zM1415 836h2v8h-2zM1417 836h2v6h-2zM1419 836h2v6h-2zM1421 836h2v10h-2zM1423 838h2v10h-2zM1425 842h2v6h-2zM1427 844h2v6h-2zM1429 844h2v8h-2zM1431 846h2v14h-2zM1433 848h2v16h-2zM1435 852h2v16h-2zM1437 860h2v10h-2zM1439 864h2v8h-2zM1441 864h2v10h-2zM1443 862h2v10h-2zM1445 860h2v6h-2zM1447 860h2v16h-2zM1449 862h2v18h-2zM1451 866h2v18h-2zM1453 874h2v16h-2zM1455 878h2v18h-2zM1457 884h2v14h-2zM1459 892h2v6h-2zM1461 892h2v6h-2zM1463 886h2v12h-2zM1465 882h2v16h-2zM1467 880h2v16h-2zM1469 876h2v10h-2zM1471 874h2v8h-2zM1473 872h2v10h-2zM1475 870h2v8h-2zM1477 872h2v6h-2zM1479 872h2v6h-2zM1481 872h2v14h-2zM1483 874h2v16h-2zM1485 880h2v12h-2zM1487 886h2v8h-2zM1489 888h2v6h-2zM1491 888h2v12h-2zM1493 888h2v16h-2zM1495 894h2v12h-2zM1497 900h2v8h-2zM1499 902h2v6h-2zM1501 902h2v8h-2zM1503 904h2v8h-2zM1505 904h2v10h-2zM1507 904h2v8h-2zM1509 902h2v6h-2zM1511 902h2v6h-2zM1513 896h2v12h-2zM1515 894h2v12h-2zM1517 892h2v10h-2zM1519 892h2v6h-2zM1521 890h2v8h-2zM1523 890h2v6h-2zM1525 890h2v6h-2zM1527 888h2v8h-2zM1529 886h2v8h-2zM1531 888h2v8h-2zM1533 890h2v10h-2zM1535 892h2v10h-2zM1537 892h2v8h-2zM1539 888h2v10h-2zM1541 884h2v10h-2zM1543 882h2v10h-2zM1545 880h2v6h-2zM1547 878h2v8h-2zM1549 878h2v6h-2zM1551 878h2v10h-2zM1553 880h2v10h-2zM1555 882h2v12h-2zM1557 886h2v10h-2zM1559 888h2v8h-2zM1561 890h2v8h-2zM1563 892h2v6h-2zM1565 892h2v10h-2zM1567 894h2v10h-2zM1569 898h2v8h-2zM1571 900h2v8h-2zM1573 898h2v8h-2zM1575 896h2v8h-2zM1577 894h2v8h-2zM1579 894h2v6h-2zM1581 896h2v6h-2zM1583 894h2v8h-2zM1585 894h2v8h-2zM1587 896h2v6h-2zM1589 896h2v6h-2zM1591 896h2v8h-2zM1593 898h2v6h-2zM1595 898h2v6h-2zM1597 898h2v6h-2zM1599 900h2v4h-2zM1601 900h2v4h-2zM1603 898h2v6h-2zM1605 894h2v10h-2zM1607 894h2v8h-2zM1609 896h2v6h-2zM1611 896h2v6h-2zM1613 898h2v6h-2zM1615 898h2v8h-2zM1617 896h2v10h-2zM1619 894h2v10h-2zM1621 894h2v6h-2zM1623 894h2v6h-2zM1625 894h2v8h-2zM1627 896h2v8h-2zM1629 896h2v8h-2zM1631 896h2v8h-2zM1633 896h2v8h-2zM1635 896h2v6h-2zM1637 898h2v6h-2zM1639 898h2v6h-2zM1641 898h2v6h-2zM1643 898h2v6h-2zM1645 900h2v4h-2zM1647 900h2v4h-2zM1649 900h2v8h-2zM1651 900h2v12h-2zM1653 904h2v10h-2zM1655 908h2v8h-2zM1657 910h2v6h-2zM1659 910h2v8h-2zM1661 912h2v6h-2zM1663 912h2v8h-2zM1665 912h2v6h-2zM1667 908h2v8h-2zM1669 904h2v10h-2zM1671 904h2v6h-2zM1673 902h2v6h-2zM1675 902h2v6h-2zM1677 900h2v6h-2zM1679 900h2v6h-2zM1681 898h2v8h-2zM1683 896h2v8h-2zM1685 890h2v12h-2zM1687 890h2v10h-2zM1689 890h2v6h-2zM1691 890h2v6h-2zM1693 890h2v6h-2zM1695 892h2v4h-2zM1697 892h2v4h-2zM1699 890h2v6h-2zM1701 888h2v6h-2zM1703 890h2v6h-2zM1705 890h2v6h-2zM1707 890h2v6h-2zM1709 890h2v8h-2zM1711 892h2v6h-2zM1713 890h2v8h-2zM1715 890h2v8h-2zM1717 892h2v8h-2zM1719 892h2v6h-2zM1721 890h2v8h-2zM1723 888h2v8h-2zM1725 888h2v6h-2zM1727 888h2v6h-2zM1729 888h2v6h-2zM1731 890h2v8h-2zM1733 892h2v8h-2zM1735 896h2v6h-2zM1737 896h2v8h-2zM1739 896h2v8h-2zM1741 896h2v6h-2zM1743 894h2v8h-2zM1745 892h2v8h-2zM1747 894h2v6h-2zM1749 894h2v6h-2zM1751 894h2v4h-2zM1753 894h2v6h-2zM1755 894h2v8h-2zM1757 896h2v8h-2zM1759 898h2v6h-2zM1761 898h2v6h-2zM1763 896h2v6h-2zM1765 896h2v6h-2zM1767 896h2v8h-2zM1769 898h2v6h-2zM1771 896h2v8h-2zM1773 894h2v8h-2zM1775 894h2v6h-2zM1777 892h2v6h-2zM1779 892h2v6h-2zM1781 892h2v8h-2zM1783 892h2v8h-2zM1785 896h2v4h-2zM1787 894h2v6h-2zM1789 892h2v6h-2zM1791 892h2v6h-2zM1793 892h2v6h-2zM1795 892h2v6h-2zM1797 890h2v10h-2zM1799 890h2v10h-2zM1801 890h2v6h-2zM1803 886h2v10h-2zM1805 886h2v8h-2zM1807 888h2v6h-2zM1809 890h2v6h-2zM1811 890h2v8h-2zM1813 892h2v6h-2zM1815 892h2v8h-2zM1817 892h2v8h-2zM1819 892h2v6h-2zM1821 894h2v6h-2zM1823 894h2v6h-2zM1825 894h2v6h-2zM1827 894h2v6h-2zM1829 896h2v4h-2zM1831 894h2v6h-2zM1833 896h2v4h-2zM1835 896h2v6h-2zM1837 896h2v4h-2zM1839 896h2v4h-2zM1841 896h2v6h-2zM1843 896h2v8h-2zM1845 896h2v8h-2zM1847 896h2v8h-2zM1849 898h2v6h-2zM1851 898h2v8h-2zM1853 898h2v8h-2zM1855 896h2v8h-2zM1857 896h2v6h-2zM1859 898h2v8h-2zM1861 898h2v8h-2zM1863 898h2v8h-2zM1865 898h2v6h-2zM1867 896h2v6h-2zM1869 898h2v4h-2zM1871 898h2v6h-2zM1873 898h2v6h-2zM1875 900h2v8h-2zM1877 902h2v6h-2zM1879 902h2v6h-2zM1881 902h2v6h-2zM1883 902h2v8h-2zM1885 902h2v16h-2zM1887 904h2v22h-2zM1889 910h2v16h-2zM1891 916h2v8h-2zM1893 914h2v10h-2zM1895 912h2v8h-2zM1897 912h2v6h-2zM1899 910h2v6h-2zM1901 910h2v6h-2zM1903 910h2v6h-2zM1905 910h2v6h-2zM1907 908h2v8h-2zM1909 906h2v8h-2zM1911 906h2v6h-2zM1913 904h2v8h-2zM1915 904h2v6h-2zM1917 904h2v6h-2zM1919 904h2v6h-2zM1921 904h2v6h-2zM1923 904h2v6h-2zM1925 904h2v6h-2zM1927 902h2v6h-2zM1929 902h2v6h-2zM1931 902h2v8h-2zM1933 902h2v6h-2zM1935 902h2v6h-2zM1937 904h2v4h-2zM1939 904h2v6h-2zM1941 902h2v10h-2zM1943 904h2v8h-2zM1945 904h2v6h-2zM1947 904h2v6h-2zM1949 904h2v6h-2zM1951 906h2v4h-2zM1953 904h2v6h-2zM1955 904h2v6h-2zM1957 900h2v8h-2zM1959 900h2v8h-2zM1961 900h2v10h-2zM1963 902h2v10h-2zM1965 906h2v6h-2zM1967 904h2v8h-2zM1969 906h2v8h-2zM1971 906h2v6h-2zM1973 906h2v6h-2zM1975 906h2v6h-2zM1977 906h2v8h-2zM1979 908h2v6h-2zM1981 908h2v6h-2zM1983 908h2v6h-2zM1985 910h2v6h-2zM1987 910h2v6h-2zM1989 908h2v6h-2zM1991 908h2v8h-2zM1993 910h2v6h-2z" fill="#0a4fa0"/>
<path d="M141 578h2v6h-2zM143 580h2v6h-2zM145 580h2v6h-2zM147 580h2v8h-2zM149 580h2v8h-2zM151 580h2v10h-2zM153 578h2v10h-2zM155 578h2v8h-2zM157 574h2v10h-2zM159 572h2v8h-2zM161 570h2v8h-2zM163 568h2v8h-2zM165 570h2v6h-2zM167 570h2v6h-2zM169 570h2v4h-2zM171 566h2v8h-2zM173 564h2v10h-2zM175 564h2v6h-2zM177 562h2v6h-2zM179 562h2v6h-2zM181 562h2v6h-2zM183 560h2v6h-2zM185 560h2v6h-2zM187 558h2v8h-2zM189 558h2v6h-2zM191 558h2v6h-2zM193 554h2v10h-2zM195 554h2v8h-2zM197 554h2v8h-2zM199 552h2v8h-2zM201 550h2v10h-2zM203 550h2v6h-2zM205 548h2v8h-2zM207 548h2v8h-2zM209 548h2v8h-2zM211 548h2v6h-2zM213 546h2v8h-2zM215 544h2v10h-2zM217 544h2v8h-2zM219 544h2v8h-2zM221 546h2v8h-2zM223 548h2v10h-2zM225 550h2v14h-2zM227 554h2v10h-2zM229 552h2v12h-2zM231 550h2v10h-2zM233 546h2v10h-2zM235 546h2v8h-2zM237 546h2v10h-2zM239 548h2v8h-2zM241 550h2v8h-2zM243 552h2v8h-2zM245 552h2v10h-2zM247 556h2v8h-2zM249 558h2v12h-2zM251 560h2v10h-2zM253 562h2v6h-2zM255 562h2v14h-2zM257 564h2v16h-2zM259 564h2v16h-2zM261 562h2v12h-2zM263 562h2v8h-2zM265 562h2v8h-2zM267 562h2v6h-2zM269 562h2v6h-2zM271 562h2v6h-2zM273 562h2v8h-2zM275 562h2v10h-2zM277 562h2v8h-2zM279 562h2v10h-2zM281 564h2v14h-2zM283 568h2v18h-2zM285 574h2v14h-2zM287 578h2v10h-2zM289 576h2v10h-2zM291 576h2v8h-2zM293 578h2v6h-2zM295 576h2v8h-2zM297 572h2v10h-2zM299 570h2v10h-2zM301 570h2v8h-2zM303 570h2v8h-2zM305 570h2v8h-2zM307 566h2v10h-2zM309 564h2v10h-2zM311 562h2v8h-2zM313 560h2v10h-2zM315 560h2v8h-2zM317 562h2v10h-2zM319 564h2v8h-2zM321 566h2v6h-2zM323 566h2v8h-2zM325 566h2v8h-2zM327 566h2v10h-2zM329 564h2v12h-2zM331 562h2v12h-2zM333 562h2v6h-2zM335 558h2v12h-2zM337 558h2v10h-2zM339 556h2v8h-2zM341 556h2v10h-2zM343 556h2v12h-2zM345 560h2v10h-2zM347 560h2v8h-2zM349 560h2v4h-2zM351 560h2v4h-2zM353 560h2v6h-2zM355 560h2v6h-2zM357 560h2v8h-2zM359 560h2v8h-2zM361 562h2v8h-2zM363 564h2v8h-2zM365 562h2v8h-2zM367 562h2v10h-2zM369 564h2v8h-2zM371 564h2v8h-2zM373 564h2v8h-2zM375 566h2v10h-2zM377 570h2v8h-2zM379 572h2v6h-2zM381 574h2v6h-2zM383 574h2v6h-2zM385 574h2v10h-2zM387 576h2v16h-2zM389 580h2v12h-2zM391 584h2v8h-2zM393 584h2v10h-2zM395 582h2v12h-2zM397 584h2v8h-2zM399 582h2v8h-2zM401 584h2v8h-2zM403 584h2v12h-2zM405 588h2v14h-2zM407 592h2v12h-2zM409 594h2v8h-2zM411 590h2v10h-2zM413 586h2v10h-2zM415 586h2v6h-2zM417 586h2v6h-2zM419 586h2v8h-2zM421 584h2v10h-2zM423 584h2v8h-2zM425 584h2v12h-2zM427 588h2v10h-2zM429 592h2v6h-2zM431 592h2v8h-2zM433 592h2v10h-2zM435 596h2v6h-2zM437 596h2v12h-2zM439 598h2v16h-2zM441 604h2v12h-2zM443 610h2v8h-2zM445 610h2v8h-2zM447 608h2v8h-2zM449 608h2v8h-2zM451 610h2v8h-2zM453 612h2v16h-2zM455 616h2v16h-2zM457 620h2v14h-2zM459 626h2v6h-2zM461 624h2v14h-2zM463 626h2v16h-2zM465 632h2v12h-2zM467 630h2v14h-2zM469 624h2v18h-2zM471 614h2v20h-2zM473 610h2v20h-2zM475 604h2v18h-2zM477 598h2v18h-2zM479 596h2v12h-2zM481 594h2v8h-2zM483 592h2v8h-2zM485 590h2v10h-2zM487 588h2v10h-2zM489 584h2v10h-2zM491 578h2v16h-2zM493 576h2v12h-2zM495 574h2v8h-2zM497 572h2v8h-2zM499 572h2v10h-2zM501 574h2v10h-2zM503 578h2v6h-2zM505 578h2v6h-2zM507 576h2v8h-2zM509 572h2v10h-2zM511 570h2v8h-2zM513 566h2v10h-2zM515 564h2v8h-2zM517 564h2v8h-2zM519 566h2v8h-2zM521 566h2v8h-2zM523 560h2v12h-2zM525 554h2v14h-2zM527 546h2v20h-2zM529 542h2v18h-2zM531 542h2v10h-2zM533 542h2v6h-2zM535 542h2v8h-2zM537 542h2v6h-2zM539 538h2v10h-2zM541 536h2v10h-2zM543 534h2v8h-2zM545 532h2v8h-2zM547 532h2v6h-2zM549 532h2v6h-2zM551 532h2v12h-2zM553 532h2v14h-2zM555 536h2v8h-2zM557 536h2v8h-2zM559 532h2v10h-2zM561 530h2v12h-2zM563 528h2v8h-2zM565 526h2v6h-2zM567 526h2v6h-2zM569 524h2v8h-2zM571 520h2v10h-2zM573 520h2v8h-2zM575 520h2v10h-2zM577 520h2v16h-2zM579 526h2v12h-2zM581 530h2v10h-2zM583 534h2v10h-2zM585 536h2v10h-2zM587 538h2v6h-2zM589 530h2v12h-2zM591 528h2v12h-2zM593 528h2v10h-2zM595 524h2v10h-2zM597 522h2v8h-2zM599 520h2v8h-2zM601 518h2v8h-2zM603 516h2v8h-2zM605 514h2v8h-2zM607 512h2v8h-2zM609 510h2v6h-2zM611 508h2v8h-2zM613 506h2v10h-2zM615 504h2v10h-2zM617 502h2v6h-2zM619 502h2v6h-2zM621 500h2v6h-2zM623 496h2v10h-2zM625 494h2v10h-2zM627 494h2v8h-2zM629 494h2v10h-2zM631 496h2v10h-2zM633 498h2v8h-2zM635 498h2v8h-2zM637 496h2v10h-2zM639 494h2v12h-2zM641 492h2v8h-2zM643 490h2v8h-2zM645 488h2v8h-2zM647 488h2v6h-2zM649 488h2v6h-2zM651 488h2v8h-2zM653 484h2v10h-2zM655 484h2v8h-2zM657 486h2v8h-2zM659 486h2v8h-2zM661 486h2v6h-2zM663 482h2v10h-2zM665 482h2v6h-2zM667 480h2v6h-2zM669 478h2v6h-2zM671 476h2v10h-2zM673 474h2v12h-2zM675 474h2v10h-2zM677 476h2v10h-2zM679 480h2v6h-2zM681 480h2v6h-2zM683 480h2v8h-2zM685 476h2v10h-2zM687 474h2v10h-2zM689 474h2v8h-2zM691 474h2v8h-2zM693 476h2v6h-2zM695 474h2v6h-2zM697 474h2v6h-2zM699 474h2v6h-2zM701 472h2v6h-2zM703 472h2v6h-2zM705 472h2v6h-2zM707 470h2v6h-2zM709 468h2v8h-2zM711 468h2v6h-2zM713 468h2v4h-2zM715 468h2v6h-2zM717 468h2v6h-2zM719 468h2v6h-2zM721 466h2v8h-2zM723 464h2v8h-2zM725 464h2v8h-2zM727 466h2v10h-2zM729 468h2v8h-2zM731 470h2v6h-2zM733 470h2v8h-2zM735 472h2v6h-2zM737 472h2v8h-2zM739 470h2v10h-2zM741 470h2v8h-2zM743 470h2v8h-2zM745 470h2v8h-2zM747 468h2v10h-2zM749 470h2v4h-2zM751 468h2v6h-2zM753 466h2v8h-2zM755 464h2v10h-2zM757 462h2v10h-2zM759 460h2v8h-2zM761 460h2v6h-2zM763 458h2v8h-2zM765 456h2v6h-2zM767 454h2v8h-2zM769 452h2v8h-2zM771 452h2v16h-2zM773 454h2v18h-2zM775 462h2v10h-2zM777 464h2v8h-2zM779 464h2v6h-2zM781 464h2v8h-2zM783 464h2v8h-2zM785 462h2v10h-2zM787 462h2v10h-2zM789 464h2v10h-2zM791 466h2v8h-2zM793 466h2v8h-2zM795 468h2v6h-2zM797 468h2v6h-2zM799 466h2v6h-2zM801 464h2v8h-2zM803 462h2v10h-2zM805 464h2v8h-2zM807 466h2v10h-2zM809 468h2v10h-2zM811 472h2v8h-2zM813 476h2v6h-2zM815 476h2v6h-2zM817 476h2v6h-2zM819 476h2v6h-2zM821 478h2v6h-2zM823 478h2v6h-2zM825 474h2v8h-2zM827 472h2v12h-2zM829 472h2v14h-2zM831 474h2v12h-2zM833 480h2v6h-2zM835 480h2v6h-2zM837 476h2v10h-2zM839 474h2v10h-2zM841 472h2v8h-2zM843 472h2v8h-2zM845 468h2v10h-2zM847 468h2v8h-2zM849 470h2v6h-2zM851 470h2v8h-2zM853 472h2v8h-2zM855 474h2v8h-2zM857 476h2v6h-2zM859 476h2v6h-2zM861 476h2v6h-2zM863 476h2v8h-2zM865 474h2v10h-2zM867 472h2v10h-2zM869 474h2v6h-2zM871 472h2v8h-2zM873 472h2v6h-2zM875 472h2v6h-2zM877 472h2v8h-2zM879 474h2v10h-2zM881 476h2v10h-2zM883 480h2v8h-2zM885 482h2v8h-2zM887 484h2v8h-2zM889 486h2v12h-2zM891 488h2v12h-2zM893 490h2v10h-2zM895 494h2v8h-2zM897 494h2v10h-2zM899 498h2v6h-2zM901 498h2v6h-2zM903 498h2v6h-2zM905 500h2v10h-2zM907 500h2v16h-2zM909 504h2v14h-2zM911 508h2v10h-2zM913 496h2v20h-2zM915 492h2v20h-2zM917 488h2v16h-2zM919 486h2v12h-2zM921 484h2v8h-2zM923 480h2v10h-2zM925 478h2v10h-2zM927 478h2v6h-2zM929 478h2v6h-2zM931 478h2v8h-2zM933 474h2v12h-2zM935 474h2v8h-2zM937 474h2v4h-2zM939 472h2v6h-2zM941 470h2v8h-2zM943 470h2v8h-2zM945 468h2v8h-2zM947 466h2v8h-2zM949 466h2v6h-2zM951 466h2v6h-2zM953 464h2v8h-2zM955 462h2v10h-2zM957 460h2v8h-2zM959 458h2v8h-2zM961 456h2v6h-2zM963 454h2v8h-2zM965 456h2v10h-2zM967 458h2v8h-2zM969 460h2v6h-2zM971 458h2v8h-2zM973 458h2v8h-2zM975 456h2v8h-2zM977 456h2v8h-2zM979 454h2v10h-2zM981 446h2v16h-2zM983 444h2v14h-2zM985 440h2v14h-2zM987 438h2v12h-2zM989 438h2v8h-2zM991 438h2v8h-2zM993 438h2v8h-2zM995 438h2v10h-2zM997 438h2v8h-2zM999 436h2v10h-2zM1001 436h2v14h-2zM1003 438h2v12h-2zM1005 444h2v8h-2zM1007 444h2v8h-2zM1009 442h2v8h-2zM1011 440h2v8h-2zM1013 438h2v8h-2zM1015 436h2v8h-2zM1017 434h2v8h-2zM1019 432h2v10h-2zM1021 430h2v10h-2zM1023 430h2v8h-2zM1025 432h2v6h-2zM1027 430h2v8h-2zM1029 430h2v10h-2zM1031 430h2v10h-2zM1033 430h2v10h-2zM1035 430h2v6h-2zM1037 430h2v6h-2zM1039 428h2v8h-2zM1041 430h2v6h-2zM1043 428h2v8h-2zM1045 426h2v8h-2zM1047 426h2v6h-2zM1049 424h2v10h-2zM1051 426h2v8h-2zM1053 426h2v8h-2zM1055 422h2v10h-2zM1057 420h2v10h-2zM1059 418h2v8h-2zM1061 414h2v10h-2zM1063 412h2v10h-2zM1065 410h2v10h-2zM1067 408h2v10h-2zM1069 404h2v12h-2zM1071 402h2v8h-2zM1073 400h2v8h-2zM1075 400h2v6h-2zM1077 400h2v10h-2zM1079 402h2v10h-2zM1081 400h2v10h-2zM1083 398h2v8h-2zM1085 396h2v10h-2zM1087 394h2v10h-2zM1089 394h2v16h-2zM1091 398h2v22h-2zM1093 404h2v24h-2zM1095 412h2v70h-2zM1097 422h2v116h-2zM1099 440h2v186h-2zM1099 628h2v2h-2zM1101 492h2v140h-2zM1103 564h2v68h-2zM1105 574h2v48h-2zM1107 558h2v38h-2zM1109 536h2v60h-2zM1111 536h2v52h-2zM1113 538h2v28h-2zM1115 550h2v16h-2zM1117 556h2v10h-2zM1119 552h2v12h-2zM1121 546h2v14h-2zM1123 530h2v28h-2zM1125 516h2v36h-2zM1127 506h2v36h-2zM1129 486h2v40h-2zM1131 466h2v48h-2zM1133 464h2v36h-2zM1135 464h2v26h-2zM1137 468h2v24h-2zM1139 482h2v8h-2zM1141 484h2v8h-2zM1143 486h2v8h-2zM1145 484h2v10h-2zM1147 476h2v16h-2zM1149 472h2v16h-2zM1151 466h2v16h-2zM1153 462h2v14h-2zM1155 458h2v12h-2zM1157 456h2v10h-2zM1159 454h2v6h-2zM1161 452h2v6h-2zM1163 452h2v6h-2zM1165 446h2v12h-2zM1167 442h2v14h-2zM1169 442h2v8h-2zM1171 440h2v8h-2zM1173 442h2v6h-2zM1175 442h2v6h-2zM1177 442h2v10h-2zM1179 442h2v20h-2zM1181 444h2v18h-2zM1183 448h2v12h-2zM1185 446h2v10h-2zM1187 446h2v6h-2zM1189 448h2v6h-2zM1191 446h2v8h-2zM1193 446h2v10h-2zM1195 446h2v12h-2zM1197 434h2v24h-2zM1199 430h2v26h-2zM1201 426h2v18h-2zM1203 422h2v12h-2zM1205 418h2v14h-2zM1207 414h2v12h-2zM1209 408h2v16h-2zM1211 406h2v16h-2zM1213 404h2v8h-2zM1215 400h2v10h-2zM1217 400h2v10h-2zM1219 398h2v8h-2zM1221 394h2v10h-2zM1223 392h2v10h-2zM1225 392h2v6h-2zM1227 392h2v6h-2zM1229 394h2v6h-2zM1231 394h2v6h-2zM1233 392h2v6h-2zM1235 388h2v8h-2zM1237 384h2v12h-2zM1239 382h2v10h-2zM1241 384h2v8h-2zM1243 384h2v8h-2zM1245 384h2v10h-2zM1247 388h2v10h-2zM1249 392h2v10h-2zM1251 394h2v10h-2zM1253 394h2v12h-2zM1255 394h2v14h-2zM1257 394h2v12h-2zM1259 392h2v8h-2zM1261 390h2v8h-2zM1263 390h2v6h-2zM1265 388h2v8h-2zM1267 386h2v8h-2zM1269 386h2v6h-2zM1271 384h2v8h-2zM1273 384h2v8h-2zM1275 384h2v8h-2zM1277 382h2v8h-2zM1279 384h2v8h-2zM1281 384h2v6h-2zM1283 380h2v8h-2zM1285 378h2v8h-2zM1287 372h2v12h-2zM1289 370h2v12h-2zM1291 370h2v8h-2zM1293 368h2v12h-2zM1295 368h2v12h-2zM1297 368h2v6h-2zM1299 366h2v6h-2zM1301 364h2v8h-2zM1303 364h2v6h-2zM1305 364h2v8h-2zM1307 366h2v6h-2zM1309 366h2v6h-2zM1311 366h2v8h-2zM1313 366h2v10h-2zM1315 366h2v8h-2zM1317 366h2v8h-2zM1319 368h2v8h-2zM1321 366h2v10h-2zM1323 364h2v12h-2zM1325 360h2v10h-2zM1327 360h2v8h-2zM1329 360h2v6h-2zM1331 356h2v10h-2zM1333 356h2v6h-2zM1335 356h2v8h-2zM1337 358h2v8h-2zM1339 360h2v10h-2zM1341 364h2v10h-2zM1343 366h2v10h-2zM1345 368h2v6h-2zM1347 368h2v6h-2zM1349 364h2v10h-2zM1351 362h2v10h-2zM1353 362h2v10h-2zM1355 362h2v10h-2zM1357 362h2v8h-2zM1359 364h2v12h-2zM1361 366h2v12h-2zM1363 370h2v12h-2zM1365 374h2v12h-2zM1367 376h2v10h-2zM1369 374h2v10h-2zM1371 374h2v6h-2zM1373 372h2v8h-2zM1375 370h2v8h-2zM1377 368h2v8h-2zM1379 366h2v8h-2zM1381 366h2v8h-2zM1383 366h2v12h-2zM1385 370h2v12h-2zM1387 372h2v12h-2zM1389 378h2v6h-2zM1391 380h2v6h-2zM1393 382h2v8h-2zM1395 382h2v16h-2zM1397 384h2v20h-2zM1399 392h2v14h-2zM1401 400h2v8h-2zM1403 402h2v12h-2zM1405 404h2v14h-2zM1407 410h2v12h-2zM1409 414h2v14h-2zM1411 418h2v14h-2zM1413 422h2v10h-2zM1415 418h2v14h-2zM1417 416h2v14h-2zM1419 414h2v12h-2zM1421 414h2v10h-2zM1423 418h2v14h-2zM1425 422h2v12h-2zM1427 426h2v12h-2zM1429 430h2v14h-2zM1431 434h2v18h-2zM1433 438h2v18h-2zM1435 446h2v16h-2zM1437 452h2v18h-2zM1439 456h2v16h-2zM1441 458h2v14h-2zM1443 452h2v16h-2zM1445 450h2v14h-2zM1447 452h2v28h-2zM1449 454h2v36h-2zM1451 466h2v32h-2zM1453 482h2v18h-2zM1455 492h2v10h-2zM1457 496h2v10h-2zM1459 498h2v12h-2zM1461 502h2v10h-2zM1463 496h2v16h-2zM1465 484h2v28h-2zM1467 476h2v28h-2zM1469 466h2v26h-2zM1471 460h2v24h-2zM1473 458h2v16h-2zM1475 456h2v8h-2zM1477 456h2v14h-2zM1479 458h2v18h-2zM1481 462h2v22h-2zM1483 470h2v18h-2zM1485 478h2v12h-2zM1487 476h2v14h-2zM1489 476h2v16h-2zM1491 478h2v26h-2zM1493 480h2v30h-2zM1495 494h2v26h-2zM1497 506h2v16h-2zM1499 512h2v8h-2zM1501 514h2v8h-2zM1503 516h2v6h-2zM1505 516h2v6h-2zM1507 506h2v16h-2zM1509 502h2v18h-2zM1511 500h2v14h-2zM1513 490h2v16h-2zM1515 486h2v18h-2zM1517 482h2v16h-2zM1519 480h2v10h-2zM1521 476h2v10h-2zM1523 474h2v8h-2zM1525 470h2v10h-2zM1527 466h2v10h-2zM1529 464h2v10h-2zM1531 466h2v10h-2zM1533 468h2v10h-2zM1535 472h2v8h-2zM1537 464h2v16h-2zM1539 452h2v26h-2zM1541 448h2v24h-2zM1543 448h2v14h-2zM1545 444h2v10h-2zM1547 440h2v12h-2zM1549 436h2v14h-2zM1551 434h2v10h-2zM1553 436h2v14h-2zM1555 440h2v16h-2zM1557 444h2v16h-2zM1559 452h2v10h-2zM1561 456h2v8h-2zM1563 456h2v8h-2zM1565 456h2v10h-2zM1567 458h2v16h-2zM1569 464h2v16h-2zM1571 466h2v14h-2zM1573 464h2v14h-2zM1575 458h2v14h-2zM1577 458h2v10h-2zM1579 458h2v8h-2zM1581 456h2v10h-2zM1583 456h2v8h-2zM1585 456h2v6h-2zM1587 456h2v6h-2zM1589 456h2v6h-2zM1591 456h2v6h-2zM1593 456h2v6h-2zM1595 456h2v6h-2zM1597 456h2v8h-2zM1599 452h2v12h-2zM1601 450h2v12h-2zM1603 448h2v8h-2zM1605 446h2v8h-2zM1607 444h2v8h-2zM1609 444h2v8h-2zM1611 444h2v8h-2zM1613 442h2v8h-2zM1615 442h2v6h-2zM1617 436h2v10h-2zM1619 432h2v14h-2zM1621 432h2v8h-2zM1623 432h2v8h-2zM1625 432h2v8h-2zM1627 432h2v6h-2zM1629 432h2v8h-2zM1631 434h2v6h-2zM1633 432h2v10h-2zM1635 430h2v10h-2zM1637 432h2v6h-2zM1639 430h2v8h-2zM1641 430h2v8h-2zM1643 430h2v6h-2zM1645 428h2v8h-2zM1647 428h2v14h-2zM1649 430h2v14h-2zM1651 438h2v10h-2zM1653 440h2v12h-2zM1655 446h2v10h-2zM1657 448h2v8h-2zM1659 450h2v6h-2zM1661 450h2v6h-2zM1663 442h2v14h-2zM1665 434h2v20h-2zM1667 428h2v24h-2zM1669 422h2v18h-2zM1671 420h2v12h-2zM1673 414h2v12h-2zM1675 412h2v10h-2zM1677 410h2v8h-2zM1679 408h2v6h-2zM1681 398h2v16h-2zM1683 388h2v24h-2zM1685 382h2v24h-2zM1687 378h2v16h-2zM1689 378h2v10h-2zM1691 380h2v8h-2zM1693 382h2v8h-2zM1695 380h2v8h-2zM1697 376h2v8h-2zM1699 374h2v8h-2zM1701 372h2v8h-2zM1703 372h2v6h-2zM1705 372h2v8h-2zM1707 372h2v8h-2zM1709 374h2v6h-2zM1711 374h2v6h-2zM1713 374h2v6h-2zM1715 370h2v8h-2zM1717 366h2v12h-2zM1719 364h2v8h-2zM1721 362h2v8h-2zM1723 360h2v8h-2zM1725 358h2v8h-2zM1727 358h2v8h-2zM1729 358h2v10h-2zM1731 360h2v10h-2zM1733 364h2v10h-2zM1735 366h2v12h-2zM1737 370h2v8h-2zM1739 370h2v10h-2zM1741 364h2v14h-2zM1743 360h2v16h-2zM1745 360h2v12h-2zM1747 360h2v12h-2zM1749 358h2v12h-2zM1751 358h2v8h-2zM1753 358h2v8h-2zM1755 358h2v6h-2zM1757 358h2v6h-2zM1759 356h2v10h-2zM1761 354h2v12h-2zM1763 354h2v6h-2zM1765 354h2v4h-2zM1767 352h2v8h-2zM1769 350h2v10h-2zM1771 346h2v12h-2zM1773 342h2v12h-2zM1775 338h2v12h-2zM1777 338h2v10h-2zM1779 338h2v10h-2zM1781 340h2v8h-2zM1783 340h2v10h-2zM1785 334h2v16h-2zM1787 328h2v20h-2zM1789 328h2v12h-2zM1791 328h2v6h-2zM1793 326h2v6h-2zM1795 324h2v8h-2zM1797 320h2v12h-2zM1799 316h2v16h-2zM1801 316h2v14h-2zM1803 314h2v10h-2zM1805 312h2v8h-2zM1807 310h2v6h-2zM1809 310h2v8h-2zM1811 310h2v8h-2zM1813 312h2v10h-2zM1815 314h2v8h-2zM1817 318h2v6h-2zM1819 318h2v8h-2zM1821 316h2v8h-2zM1823 318h2v6h-2zM1825 316h2v8h-2zM1827 314h2v8h-2zM1829 312h2v8h-2zM1831 310h2v8h-2zM1833 308h2v10h-2zM1835 306h2v12h-2zM1837 304h2v14h-2zM1839 304h2v6h-2zM1841 304h2v10h-2zM1843 306h2v12h-2zM1845 310h2v8h-2zM1847 312h2v6h-2zM1849 312h2v6h-2zM1851 312h2v6h-2zM1853 308h2v8h-2zM1855 304h2v10h-2zM1857 304h2v8h-2zM1859 302h2v8h-2zM1861 300h2v8h-2zM1863 300h2v6h-2zM1865 300h2v6h-2zM1867 298h2v8h-2zM1869 296h2v8h-2zM1871 294h2v10h-2zM1873 294h2v8h-2zM1875 294h2v10h-2zM1877 298h2v8h-2zM1879 300h2v8h-2zM1881 300h2v8h-2zM1883 302h2v8h-2zM1885 302h2v16h-2zM1887 304h2v38h-2zM1889 312h2v30h-2zM1891 322h2v20h-2zM1893 310h2v30h-2zM1895 306h2v24h-2zM1897 302h2v22h-2zM1899 302h2v8h-2zM1901 298h2v8h-2zM1903 298h2v6h-2zM1905 298h2v4h-2zM1907 296h2v8h-2zM1909 294h2v8h-2zM1911 290h2v10h-2zM1913 288h2v10h-2zM1915 288h2v6h-2zM1917 284h2v10h-2zM1919 280h2v14h-2zM1921 278h2v12h-2zM1923 276h2v8h-2zM1925 276h2v8h-2zM1927 274h2v12h-2zM1929 272h2v12h-2zM1931 268h2v10h-2zM1933 266h2v10h-2zM1935 264h2v8h-2zM1937 264h2v6h-2zM1939 262h2v8h-2zM1941 262h2v6h-2zM1943 260h2v6h-2zM1945 258h2v6h-2zM1947 258h2v6h-2zM1949 254h2v8h-2zM1951 250h2v10h-2zM1953 248h2v10h-2zM1955 246h2v10h-2zM1957 246h2v10h-2zM1959 248h2v8h-2zM1961 250h2v8h-2zM1963 252h2v8h-2zM1965 254h2v12h-2zM1967 254h2v14h-2zM1969 252h2v14h-2zM1971 250h2v8h-2zM1973 248h2v8h-2zM1975 248h2v8h-2zM1977 248h2v8h-2zM1979 248h2v8h-2zM1981 250h2v6h-2zM1983 250h2v6h-2zM1985 250h2v8h-2zM1987 248h2v10h-2zM1989 246h2v10h-2zM1991 246h2v6h-2zM1993 248h2v4h-2z" fill="#a50034"/>
<text x="1902.5" y="283.3" font-size="30.52" font-weight="normal" fill="#fff" text-anchor="start" textLength="52.3" lengthAdjust="spacingAndGlyphs">22.37</text>
<text x="1909.3" y="899.1" font-size="30.38" font-weight="normal" fill="#fff" text-anchor="start" textLength="40.2" lengthAdjust="spacingAndGlyphs">7.72</text>
</svg></body></html>
